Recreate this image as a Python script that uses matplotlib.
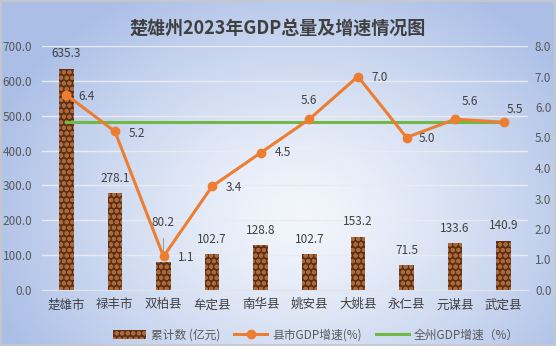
import numpy as np
import matplotlib
matplotlib.use("Agg")
import matplotlib.pyplot as plt
from matplotlib.patches import Patch, Rectangle
from matplotlib.lines import Line2D

plt.rcParams['font.family'] = ['Noto Sans CJK SC', 'DejaVu Sans']
plt.rcParams['hatch.linewidth'] = 1.4

# 数据
regions = ['楚雄市', '禄丰市', '双柏县', '牟定县', '南华县', '姚安县', '大姚县', '永仁县', '元谋县', '武定县']
gdp = [635.3, 278.1, 80.2, 102.7, 128.8, 102.7, 153.2, 71.5, 133.6, 140.9]
growth = [6.4, 5.2, 1.1, 3.4, 4.5, 5.6, 7.0, 5.0, 5.6, 5.5]
prefecture_growth = 5.5

# 增速标签偏移 (像素): dx, dy, 水平对齐, 是否画引线
growth_label_pos = [(12, -2, 'left', False), (14, -2, 'left', False), (14, -1, 'left', False),
                    (14, -1, 'left', False), (14, 0, 'left', False), (0, 19, 'center', True),
                    (14, -1, 'left', False), (12, -1, 'left', False), (15, 18, 'center', True),
                    (11, 13, 'center', False)]
bar_label_dy = [15, 15, 40, 15, 15, 15, 15, 15, 15, 15]

text_c = '#404040'
bar_face = '#5e2f13'
bar_hatch = '#a9693b'
bar_tex = 'ooo'
orange = '#ed7d31'
green = '#70b947'

fig = plt.figure(figsize=(5.56, 3.46), dpi=100)

# 渐变背景
bg = fig.add_axes([0, 0, 1, 1], zorder=-10)
h, w = 346, 556
yy, xx = np.mgrid[0:h, 0:w]
r = np.sqrt(((xx - 300) / 330.0) ** 2 + ((yy - 215) / 260.0) ** 2)
r = np.clip(r, 0, 1) ** 1.3
c_in = np.array([243, 246, 252]) / 255.0
c_out = np.array([170, 190, 230]) / 255.0
img = c_in[None, None, :] * (1 - r[..., None]) + c_out[None, None, :] * r[..., None]
bg.imshow(img, aspect='auto', extent=[0, 1, 0, 1], origin='upper')
bg.add_patch(Rectangle((0.001, 0.002), 0.997, 0.995, fill=False, edgecolor='#c8c8c8', lw=1.2,
                       transform=bg.transAxes))
bg.axis('off')

ax = fig.add_axes([42 / 556, 56 / 346, 486 / 556, 244 / 346])
ax.patch.set_alpha(0)
x = np.arange(len(regions))

ax.bar(x, gdp, width=0.3, color=bar_face, edgecolor=bar_hatch, hatch=bar_tex, linewidth=0, zorder=3)
ax.set_ylim(0, 700)
ax.set_xlim(-0.5, len(regions) - 0.5)
ax.set_yticks(np.arange(0, 701, 100))
ax.set_yticklabels([f'{v:.1f}' for v in np.arange(0, 701, 100)])
ax.set_xticks(x)
ax.set_xticklabels(regions)
ax.grid(axis='y', color='#e8ebf2', linewidth=1, zorder=0)
ax.set_axisbelow(True)
for s in ax.spines.values():
    s.set_visible(False)
ax.spines['bottom'].set_visible(True)
ax.spines['bottom'].set_color('#e0e3ea')
ax.tick_params(axis='y', length=0, pad=7, labelsize=8.5, labelcolor='#595959')
ax.tick_params(axis='x', length=0, pad=6, labelsize=9, labelcolor=text_c)

for i, v in enumerate(gdp):
    ax.annotate(f'{v:.1f}', (x[i], v), xytext=(0, bar_label_dy[i]), textcoords='offset pixels',
                ha='center', va='center', fontsize=8.5, color=text_c,
                arrowprops=dict(arrowstyle='-', color='#a0a0a0', lw=0.8, shrinkA=5, shrinkB=3)
                if bar_label_dy[i] > 20 else None)

ax2 = ax.twinx()
ax2.set_ylim(0, 8)
ax2.set_yticks(np.arange(0, 9, 1))
ax2.set_yticklabels([f'{v:.1f}' for v in np.arange(0, 9, 1)])
for s in ax2.spines.values():
    s.set_visible(False)
ax2.tick_params(axis='y', length=0, pad=5, labelsize=8.5, labelcolor='#595959')

ax2.plot(x, [prefecture_growth] * len(x), color=green, lw=2.2, zorder=4)
ax2.plot(x, growth, color=orange, lw=2.2, marker='o', markersize=6, zorder=5)

for i, v in enumerate(growth):
    dx, dy, ha, lead = growth_label_pos[i]
    ax2.annotate(f'{v:.1f}', (x[i], v), xytext=(dx, dy), textcoords='offset pixels',
                 ha=ha, va='center', fontsize=8.5, color=text_c,
                 arrowprops=dict(arrowstyle='-', color='#a0a0a0', lw=0.8, shrinkA=5, shrinkB=2)
                 if lead else None)

fig.text(0.5, 1 - 28 / 346, '楚雄州2023年GDP总量及增速情况图', ha='center', va='center',
         fontsize=13, fontweight='bold', color=text_c)

handles = [Patch(facecolor=bar_face, edgecolor=bar_hatch, hatch=bar_tex, linewidth=0),
           Line2D([0], [0], color=orange, lw=2.2, marker='o', markersize=6),
           Line2D([0], [0], color=green, lw=2.2)]
labels = ['累计数 (亿元)', '县市GDP增速(%)', '全州GDP增速（%）']
fig.legend(handles, labels, loc='center', bbox_to_anchor=(316 / 556, 1 - 335 / 346), ncol=3,
           frameon=False, fontsize=8.5, labelcolor='#595959', handlelength=2.8,
           columnspacing=1.2, handletextpad=0.4)

fig.savefig('out.png', dpi=100)
